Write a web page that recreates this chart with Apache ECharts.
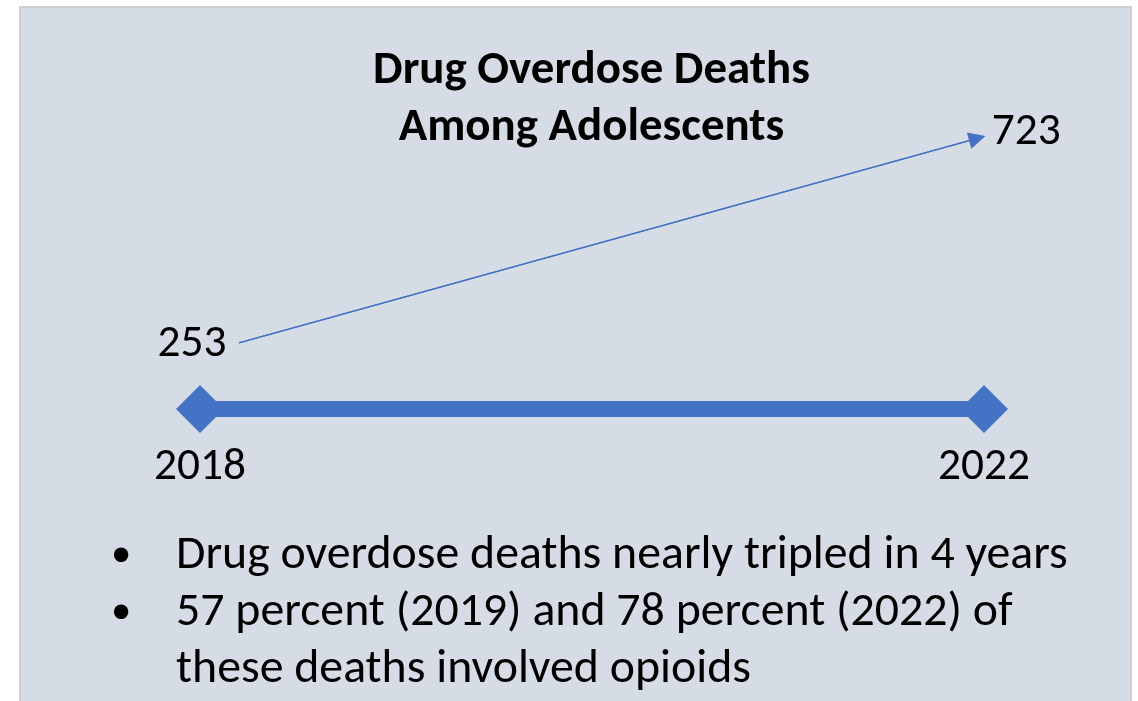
<!DOCTYPE html>
<html>
<head>
<meta charset="utf-8">
<script src="https://cdn.jsdelivr.net/npm/echarts@6/dist/echarts.min.js"></script>
<style>
html,body{margin:0;padding:0;background:#ffffff;}
#main{width:1138px;height:701px;}
</style>
</head>
<body>
<div id="main"></div>
<script>
// ---- data ----
const titleLines = ['Drug Overdose Deaths', 'Among Adolescents'];
const years = ['2018', '2022'];
const deaths = [253, 723];
const bullets = [
  'Drug overdose deaths nearly tripled in 4 years',
  '57 percent (2019) and 78 percent (2022) of',
  'these deaths involved opioids'
];
const bulletMarks = [true, true, false];

// ---- fonts: fit sizes to the reference's measured text widths ----
const FONT = 'Carlito, Lato, "Open Sans", sans-serif';
const ctx = document.createElement('canvas').getContext('2d');
function fit(text, weight, target) {
  ctx.font = weight + ' 100px ' + FONT;
  return 100 * target / ctx.measureText(text).width;
}
const titleSize = fit(titleLines[0], 'bold', 437);
const bulletSize = fit(bullets[0], 'normal', 892);
const numSize = fit(years[0], 'normal', 92);

const BLUE = '#4472c4';
const lineCenters = [556, 613, 670];

const graphics = [{
  type: 'rect', z: -10, silent: true,
  shape: { x: 20, y: 7, width: 1111, height: 760 },
  style: { fill: '#d6dce5', stroke: '#cfcfcf', lineWidth: 2 }
}];
bullets.forEach((t, i) => {
  if (bulletMarks[i]) {
    graphics.push({
      type: 'text', x: 121, y: lineCenters[i], silent: true,
      style: { text: '\u2022', fill: '#000', fontFamily: FONT, fontSize: bulletSize * 0.85, align: 'center', verticalAlign: 'middle' }
    });
  }
  graphics.push({
    type: 'text', x: 176, y: lineCenters[i], silent: true,
    style: { text: t, fill: '#000', fontFamily: FONT, fontSize: bulletSize, align: 'left', verticalAlign: 'middle' }
  });
});

const labelCfg = [
  { position: 'left', distance: 12, offset: [0, 1.5] },
  { position: 'right', distance: 14, offset: [0, -6] }
];

const chart = echarts.init(document.getElementById('main'));
chart.setOption({
  animation: false,
  backgroundColor: '#ffffff',
  title: {
    text: titleLines.join('\n'),
    left: 591.5, top: 42.5, textAlign: 'center', padding: 0,
    textStyle: { fontFamily: FONT, fontWeight: 'bold', fontSize: titleSize, lineHeight: 57, color: '#000' }
  },
  graphic: { elements: graphics },
  grid: [
    { left: 200, right: 154, top: 389, height: 40 },
    { left: 239, right: 160.7, top: 104.8, bottom: 247.9 }
  ],
  xAxis: [
    {
      gridIndex: 0, type: 'category', data: years, boundaryGap: false,
      axisLine: { show: false }, axisTick: { show: false }, splitLine: { show: false },
      axisLabel: { interval: 0, margin: 38.5, verticalAlign: 'middle', color: '#000', fontFamily: FONT, fontSize: numSize }
    },
    { gridIndex: 1, type: 'value', min: 2018, max: 2022, show: false }
  ],
  yAxis: [
    { gridIndex: 0, type: 'value', min: -1, max: 1, show: false },
    { gridIndex: 1, type: 'value', min: 0, max: 800, show: false }
  ],
  series: [
    {
      type: 'line', xAxisIndex: 0, yAxisIndex: 0, clip: false,
      data: years.map(() => 0),
      symbol: 'diamond', symbolSize: 48,
      lineStyle: { color: BLUE, width: 16 },
      itemStyle: { color: BLUE }
    },
    {
      type: 'line', xAxisIndex: 1, yAxisIndex: 1, clip: false,
      data: years.map((y, i) => [Number(y), deaths[i]]),
      symbol: 'none',
      lineStyle: { color: BLUE, width: 1.2 },
      markLine: {
        silent: true, symbol: ['none', 'triangle'], symbolSize: 17,
        label: { show: false },
        lineStyle: { color: BLUE, width: 1.2, type: 'solid', opacity: 1 },
        itemStyle: { color: BLUE },
        data: [[{ coord: [Number(years[0]), deaths[0]] }, { coord: [Number(years[1]), deaths[1]] }]]
      }
    },
    {
      type: 'scatter', xAxisIndex: 1, yAxisIndex: 1, clip: false,
      symbolSize: 1, itemStyle: { color: 'rgba(0,0,0,0)', opacity: 1 },
      data: years.map((y, i) => ({
        value: [Number(y), deaths[i]],
        label: Object.assign({ show: true, formatter: String(deaths[i]), color: '#000', fontFamily: FONT, fontSize: numSize }, labelCfg[i])
      }))
    }
  ]
});
</script>
</body>
</html>
